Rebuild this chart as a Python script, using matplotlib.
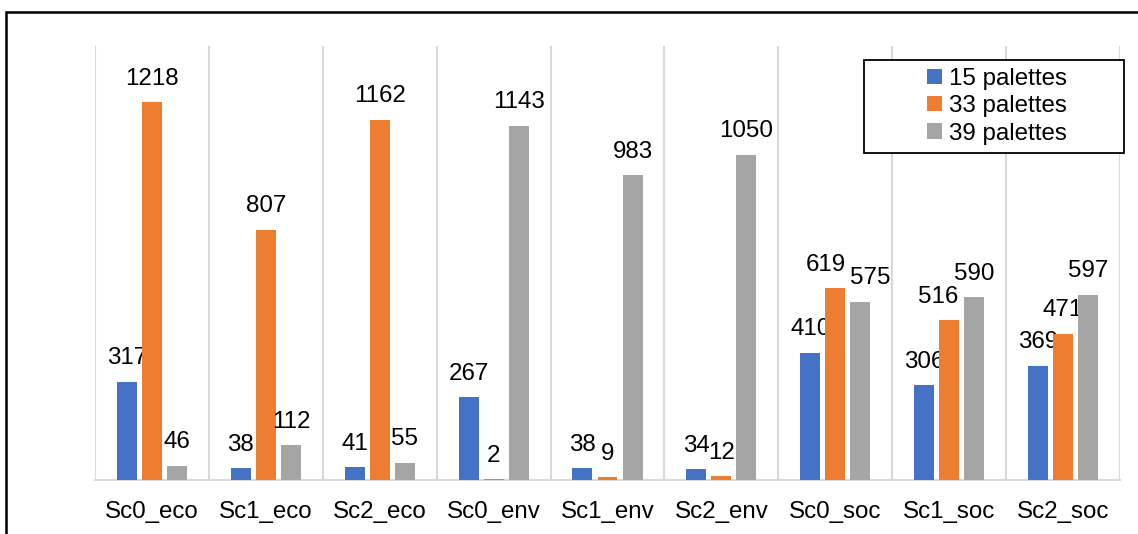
import matplotlib
matplotlib.use("Agg")
import matplotlib.pyplot as plt
from matplotlib.patches import Rectangle
import numpy as np

categories = ["Sc0_eco", "Sc1_eco", "Sc2_eco", "Sc0_env", "Sc1_env", "Sc2_env",
              "Sc0_soc", "Sc1_soc", "Sc2_soc"]
series_names = ["15 palettes", "33 palettes", "39 palettes"]
p15 = [317, 38, 41, 267, 38, 34, 410, 306, 369]
p33 = [1218, 807, 1162, 2, 9, 12, 619, 516, 471]
p39 = [46, 112, 55, 1143, 983, 1050, 575, 590, 597]
colors = ["#4472C4", "#ED7D31", "#A5A5A5"]

# small horizontal label nudges (points) to mimic the original label placement
nudges = {(1, 6): -7, (2, 6): 7.5, (1, 7): -8}

plt.rcParams['font.family'] = ['Liberation Sans', 'DejaVu Sans']
fs = 17.4

W, H = 1138, 534
fig = plt.figure(figsize=(W/100, H/100), dpi=100)
ax = fig.add_axes([95/W, 1-480/H, (1120-95)/W, (480-46)/H])

x = np.arange(len(categories))
offsets = [-0.22, 0.0, 0.22]
width = 0.175
for si, (vals, name, col, off) in enumerate(zip([p15, p33, p39], series_names, colors, offsets)):
    ax.bar(x + off, vals, width, color=col, label=name, zorder=3)
    for ci, (xi, v) in enumerate(zip(x + off, vals)):
        dx = nudges.get((si, ci), 0)
        ax.annotate(str(v), (xi, v), xytext=(dx, 9), textcoords="offset points",
                    ha="center", va="bottom", fontsize=fs, color="#000000")

ax.set_xlim(-0.5, len(categories) - 0.5)
ax.set_ylim(0, 1400)
ax.set_yticks([])
ax.set_xticks(x)
ax.set_xticklabels(categories, fontsize=fs)
ax.tick_params(axis='x', length=0, pad=15)
for b in np.arange(-0.5, len(categories), 1.0):
    ax.axvline(b, color="#D9D9D9", lw=1.5, zorder=1)
for s in ["top", "left", "right"]:
    ax.spines[s].set_visible(False)
ax.spines["bottom"].set_color("#D9D9D9")
ax.spines["bottom"].set_linewidth(1.5)

# legend box (white background with black edge)
fig.patches.append(Rectangle((864/W, 1-153/H), (1124-864)/W, (153-60)/H,
                             transform=fig.transFigure, facecolor="white",
                             edgecolor="#000000", lw=1.3, zorder=5))
leg = fig.legend(loc="upper left", bbox_to_anchor=(927/W, 1-68/H),
                 fontsize=fs, frameon=False, handlelength=0.6,
                 handleheight=0.6, handletextpad=0.3, borderpad=0.0, labelspacing=0.22,
                 borderaxespad=0)
leg.set_zorder(6)

fig.patches.append(Rectangle((6/W, -0.5), 2, 0.5 + 1 - 12/H, transform=fig.transFigure,
                             fill=False, edgecolor="#000000", lw=1.8))

fig.savefig("out.png", dpi=100)
